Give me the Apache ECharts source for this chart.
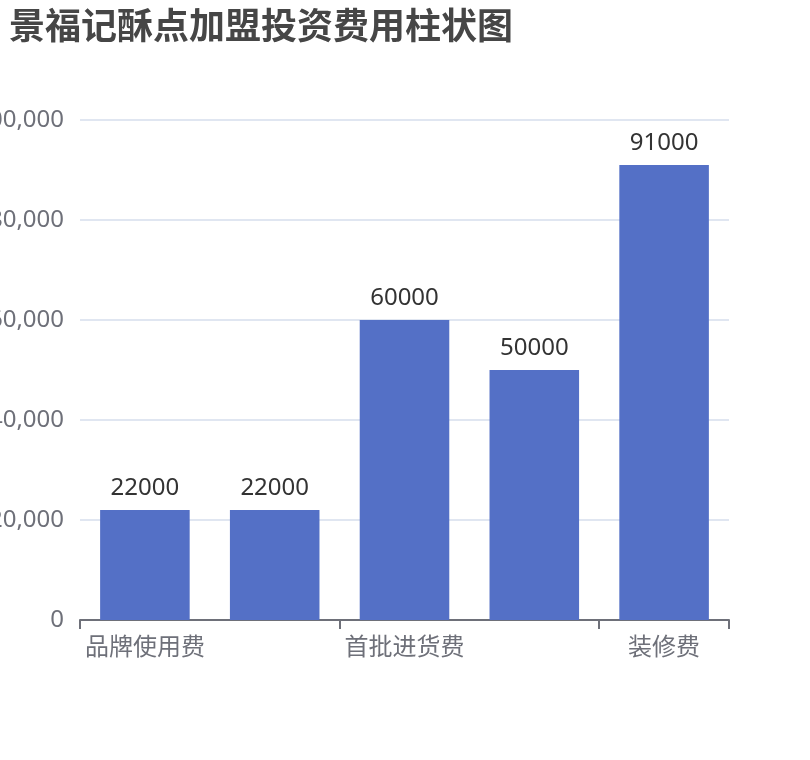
<!DOCTYPE html>
<html style="height: 100%">
<head>
    <meta charset="utf-8">
</head>
<body style="height: 100%; margin: 0">
    <div id="container" style="height: 100%"></div>
    <script type="text/javascript" src="https://cdn.jsdelivr.net/npm/echarts@6/dist/echarts.min.js"></script>
    <script type="text/javascript">
        // 费用项目与金额（元）
        var categories = ['品牌使用费', '加盟管理费', '首批进货费', '设备费', '装修费'];
        var costs = [22000, 22000, 60000, 50000, 91000];
        var yTicks = [0, 20000, 40000, 60000, 80000, 100000];

        var myChart = echarts.init(document.getElementById('container'));
        var font = '"Noto Sans", "Noto Sans CJK SC", sans-serif';

        var option = {
            title: {
                text: '景福记酥点加盟投资费用柱状图',
                left: 4,
                top: 6,
                textStyle: { fontSize: 36, fontWeight: 'bold', color: '#464646', fontFamily: font }
            },
            grid: { left: 80, right: 81, top: 120, bottom: 140, outerBoundsMode: 'none' },
            xAxis: {
                type: 'category',
                data: categories,
                axisLine: { lineStyle: { color: '#6E7079', width: 2 } },
                axisTick: { show: true, interval: 1, length: 9, lineStyle: { width: 2 } },
                axisLabel: { interval: 1, fontSize: 24, color: '#6E7079', fontFamily: font, margin: 16 }
            },
            yAxis: {
                type: 'value',
                min: yTicks[0],
                max: yTicks[yTicks.length - 1],
                interval: yTicks[1] - yTicks[0],
                axisLabel: { fontSize: 24, color: '#6E7079', fontFamily: font, margin: 16 },
                splitLine: { lineStyle: { color: '#E0E6F1', width: 2 } }
            },
            series: [{
                type: 'bar',
                data: costs,
                barWidth: '69%',
                itemStyle: { color: '#5470C6' },
                label: { show: true, position: 'top', fontSize: 24, color: '#333', fontFamily: font, distance: 10 }
            }]
        };

        myChart.setOption(option);
    </script>
</body>
</html>
